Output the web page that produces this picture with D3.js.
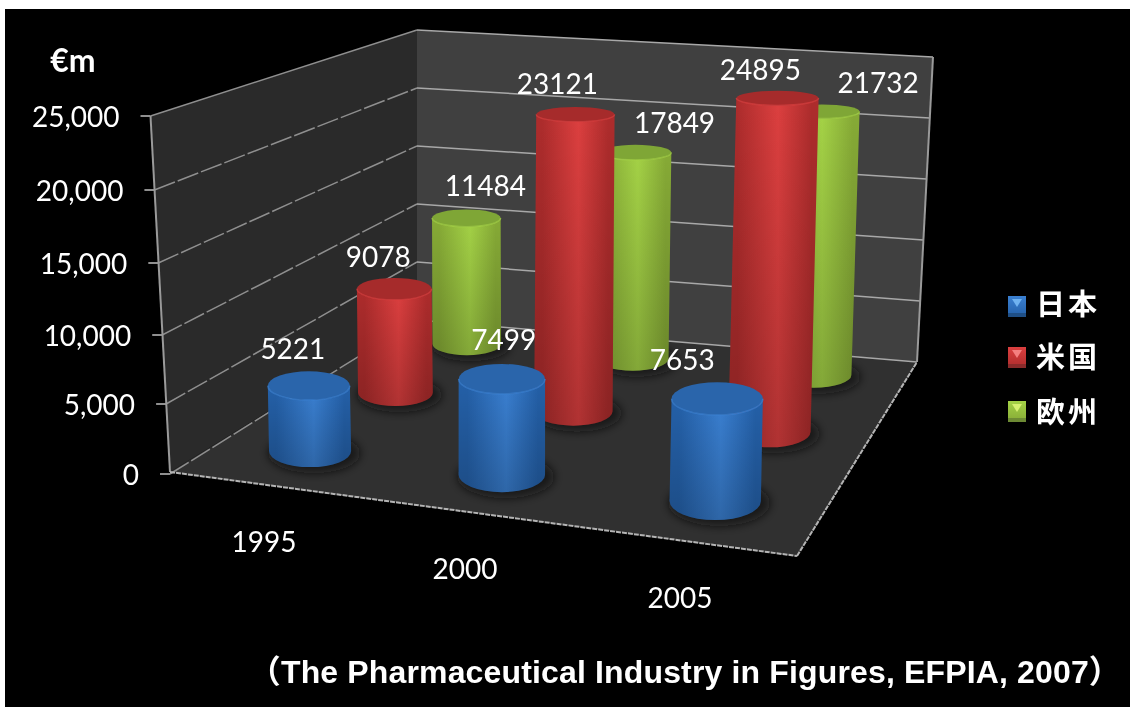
<!DOCTYPE html>
<html lang="ja">
<head>
    <meta charset="UTF-8">
    <title>3D cylinder chart</title>
    <script src="https://d3js.org/d3.v7.min.js"></script>
    <style>
        html, body { margin: 0; padding: 0; background: #fff; overflow: hidden; }
        svg { display: block; filter: blur(0.45px); }
    </style>
</head>
<body>
    <svg></svg>
    <script>
        const categories = ['1995', '2000', '2005'];
        const seriesNames = ['日本', '米国', '欧州'];
        const japan = [5221, 7499, 7653];
        const usa = [9078, 23121, 24895];
        const europe = [11484, 17849, 21732];
        const seriesValues = [japan, usa, europe];
        const yTicks = [0, 5000, 10000, 15000, 20000, 25000];
        const unitLabel = '€m';
        const sourceNote = '（The Pharmaceutical Industry in Figures, EFPIA, 2007）';

        const width = 1130;
        const height = 707;

        // corners of the 3d box on screen
        const floorA = [170, 472], floorB = [797, 556], floorC = [917, 362], floorD = [417, 320];
        const topA = [150.5, 116], topC = [933, 57], topD = [417, 30];
        const leftEdgeY = [474, 404, 335, 263, 190, 116];

        // pixels for a full 25,000 cylinder, per row, left to right
        const rowHeight = [[313, 319, 334], [286, 321, 335], [274, 289, 303]];

        // label offsets from the top of each cylinder, same order as seriesValues
        const labelShift = [
            [[-16, -37], [2, -39], [-35, -38]],
            [[-16, -32], [-18, -30], [-17, -28]],
            [[19, -32], [39, -29], [56, -28]]
        ];
        const tickLabelGap = 21;
        const yearPos = [[264, 542], [465, 569], [680, 598]];

        const colors = [
            { edge: '#2460a8', mid: '#3a80d2', top: '#2a65ab', tri: '#6fb2f0', low: '#1f4f86' },
            { edge: '#ad2c2c', mid: '#dc3f3f', top: '#a62b2b', tri: '#f47f7f', low: '#8a2a2a' },
            { edge: '#86aa36', mid: '#a4d246', top: '#7fa636', tri: '#d6f070', low: '#6d8a34' }
        ];

        const svg = d3.select('svg').attr('width', width).attr('height', height);
        const defs = svg.append('defs');

        svg.append('rect')
            .attr('x', 5).attr('y', 9)
            .attr('width', width - 5).attr('height', height - 9)
            .attr('fill', '#000');

        // scales
        const uScale = d3.scalePoint().domain(categories).range([0.168, 0.843]);
        const vScale = d3.scalePoint().domain(seriesNames).range([0.17, 0.86]);
        const yScale = d3.scaleLinear().domain([0, 25000]).range([0, 1]);
        const leftY = d3.scaleLinear().domain(yTicks).range(leftEdgeY);
        const lift = d3.scaleLinear().domain([0, 1]);
        const flatten = d3.scaleLinear().domain([100, 500]).range([0.18, 0.42]);

        // floor homography, unit square -> floor corners
        const dx1 = floorB[0] - floorC[0], dx2 = floorD[0] - floorC[0];
        const dy1 = floorB[1] - floorC[1], dy2 = floorD[1] - floorC[1];
        const sx = floorA[0] - floorB[0] + floorC[0] - floorD[0];
        const sy = floorA[1] - floorB[1] + floorC[1] - floorD[1];
        const den = dx1 * dy2 - dx2 * dy1;
        const g = (sx * dy2 - dx2 * sy) / den;
        const h = (dx1 * sy - sx * dy1) / den;
        const perspective = (u, v) => 1 + g * u + h * v;
        const floorPoint = (u, v) => {
            const w = perspective(u, v);
            return [
                ((floorB[0] - floorA[0] + g * floorB[0]) * u + (floorD[0] - floorA[0] + h * floorD[0]) * v + floorA[0]) / w,
                ((floorB[1] - floorA[1] + g * floorB[1]) * u + (floorD[1] - floorA[1] + h * floorD[1]) * v + floorA[1]) / w
            ];
        };
        const wallPoint = (bottom, top, value) => [
            lift.range([bottom[0], top[0]])(yScale(value)),
            lift.range([bottom[1], top[1]])(yScale(value))
        ];
        const poly = d3.line();

        // walls and floor
        svg.append('path')
            .attr('d', poly([floorA, topA, topD, floorD]) + 'Z')
            .attr('fill', '#2a2a2a');
        svg.append('path')
            .attr('d', poly([floorD, topD, topC, floorC]) + 'Z')
            .attr('fill', '#404040');
        svg.append('path')
            .attr('d', poly([floorA, floorB, floorC, floorD]) + 'Z')
            .attr('fill', '#303030');

        // gridlines
        yTicks.forEach(t => {
            const left = [wallPoint(floorA, topA, t)[0], leftY(t)];
            const mid = wallPoint(floorD, topD, t);
            const right = wallPoint(floorC, topC, t);
            svg.append('path')
                .attr('d', poly([left, mid]))
                .attr('fill', 'none')
                .attr('stroke', '#8f8f8f')
                .attr('stroke-width', 1.5)
                .attr('stroke-dasharray', t === 25000 ? null : '22 3');
            svg.append('path')
                .attr('d', poly([mid, right]))
                .attr('fill', 'none')
                .attr('stroke', '#a8a8a8')
                .attr('stroke-width', 1.5);
            // axis ticks + labels
            svg.append('line')
                .attr('x1', left[0] - 10).attr('x2', left[0])
                .attr('y1', left[1]).attr('y2', left[1])
                .attr('stroke', '#8f8f8f')
                .attr('stroke-width', 2);
            svg.append('text')
                .attr('x', left[0] - 10 - tickLabelGap)
                .attr('y', left[1] + 1)
                .attr('dy', '0.35em')
                .attr('text-anchor', 'end')
                .attr('class', 'lbl')
                .text(d3.format(',')(t));
        });

        // box edges
        [[floorA, topA], [floorC, topC]].forEach(e => {
            svg.append('path').attr('d', poly(e))
                .attr('stroke', '#9a9a9a').attr('stroke-width', 2).attr('fill', 'none');
        });
        [[floorA, floorB], [floorB, floorC]].forEach(e => {
            svg.append('path').attr('d', poly(e))
                .attr('stroke', '#b4b4b4').attr('stroke-width', 2).attr('fill', 'none')
                .attr('stroke-dasharray', '5 1');
        });

        // fills
        const blur = defs.append('filter').attr('id', 'blur')
            .attr('x', '-30%').attr('y', '-50%').attr('width', '160%').attr('height', '200%');
        blur.append('feGaussianBlur').attr('stdDeviation', 5);

        colors.forEach((c, i) => {
            const grad = defs.append('linearGradient').attr('id', 'body' + i);
            [[0, c.edge], [0.1, c.edge], [0.55, c.mid], [0.92, c.edge], [1, c.edge]].forEach(s => {
                grad.append('stop').attr('offset', s[0]).attr('stop-color', s[1]);
            });
            const swatch = defs.append('linearGradient').attr('id', 'swatch' + i)
                .attr('x1', 0).attr('x2', 0).attr('y1', 0).attr('y2', 1);
            [[0, c.mid], [1, c.edge]].forEach(s => {
                swatch.append('stop').attr('offset', s[0]).attr('stop-color', s[1]);
            });
        });
        const shade = defs.append('linearGradient').attr('id', 'shade')
            .attr('x1', 0).attr('x2', 0).attr('y1', 0).attr('y2', 1);
        shade.append('stop').attr('offset', 0).attr('stop-color', '#000').attr('stop-opacity', 0);
        shade.append('stop').attr('offset', 1).attr('stop-color', '#000').attr('stop-opacity', 0.2);

        // cylinders, back row first
        const barScale = 42;
        const bars = d3.range(seriesNames.length).reverse().flatMap(s =>
            categories.map((c, i) => ({ s, i, c, value: seriesValues[s][i] })));

        bars.forEach(d => {
            const u = uScale(d.c), v = vScale(seriesNames[d.s]);
            const base = floorPoint(u, v);
            const rx = barScale / perspective(u, v);
            const t = yScale(d.value);
            const topX = base[0] + (base[0] - 500) * 0.03 * t;
            const topY = base[1] - rowHeight[d.s][d.i] * t;
            const ryBase = rx * flatten(base[1]);
            const ryTop = rx * flatten(topY);
            d.topX = topX; d.topY = topY;

            const g3 = svg.append('g');
            g3.append('ellipse')
                .attr('cx', base[0] + 4).attr('cy', base[1] + 2)
                .attr('rx', rx + 5).attr('ry', ryBase + 4)
                .attr('fill', '#111')
                .attr('fill-opacity', 0.75)
                .attr('filter', 'url(#blur)');
            const body = `M${topX - rx},${topY} A${rx},${ryTop} 0 0 0 ${topX + rx},${topY}` +
                ` L${base[0] + rx},${base[1]} A${rx},${ryBase} 0 0 1 ${base[0] - rx},${base[1]} Z`;
            g3.append('path').attr('d', body).attr('fill', `url(#body${d.s})`);
            g3.append('path').attr('d', body).attr('fill', 'url(#shade)');
            g3.append('ellipse')
                .attr('cx', topX).attr('cy', topY)
                .attr('rx', rx).attr('ry', ryTop)
                .attr('fill', colors[d.s].top);
            // lighter front rim
            g3.append('path')
                .attr('d', `M${topX - rx},${topY} A${rx},${ryTop} 0 0 0 ${topX + rx},${topY}`)
                .attr('fill', 'none')
                .attr('stroke', colors[d.s].mid)
                .attr('stroke-opacity', 0.7)
                .attr('stroke-width', 1.5);
        });

        // data labels
        bars.forEach(d => {
            const shift = labelShift[d.s][d.i];
            svg.append('text')
                .attr('x', d.topX + shift[0])
                .attr('y', d.topY + shift[1])
                .attr('dy', '0.35em')
                .attr('text-anchor', 'middle')
                .attr('class', 'lbl')
                .text(d.value);
        });

        // year labels
        categories.forEach((c, i) => {
            svg.append('text')
                .attr('x', yearPos[i][0]).attr('y', yearPos[i][1])
                .attr('dy', '0.35em')
                .attr('text-anchor', 'middle')
                .attr('class', 'lbl')
                .text(c);
        });

        svg.selectAll('.lbl')
            .attr('fill', '#fff')
            .attr('font-family', 'Lato, sans-serif')
            .attr('font-size', 28);

        svg.append('text')
            .attr('x', 73).attr('y', 61)
            .attr('dy', '0.35em')
            .attr('text-anchor', 'middle')
            .attr('fill', '#fff')
            .attr('font-family', 'Lato, sans-serif')
            .attr('font-weight', 700)
            .attr('font-size', 32)
            .text(unitLabel);

        // legend
        const legendY = [296, 347, 401];
        const legendTextY = [305, 358, 413];
        seriesNames.forEach((name, i) => {
            const lg = svg.append('g').attr('transform', `translate(1008, ${legendY[i]})`);
            lg.append('rect').attr('width', 18).attr('height', 21).attr('fill', `url(#swatch${i})`);
            lg.append('path').attr('d', poly([[4, 3], [14, 3], [9, 11]])).attr('fill', colors[i].tri);
            lg.append('rect').attr('y', 17).attr('width', 18).attr('height', 4).attr('fill', colors[i].low);
            svg.append('text')
                .attr('x', 1036).attr('y', legendTextY[i])
                .attr('dy', '0.35em')
                .attr('fill', '#fff')
                .attr('font-family', '"Noto Sans CJK JP", sans-serif')
                .attr('font-weight', 700)
                .attr('font-size', 29)
                .attr('letter-spacing', 3)
                .text(name);
        });

        // source note
        svg.append('text')
            .attr('x', 1121).attr('y', 683)
            .attr('text-anchor', 'end')
            .attr('fill', '#fff')
            .attr('font-family', '"Liberation Sans", "Noto Sans CJK JP", sans-serif')
            .attr('font-weight', 700)
            .attr('font-size', 32)
            .attr('letter-spacing', 0.15)
            .text(sourceNote);
    </script>
</body>
</html>
